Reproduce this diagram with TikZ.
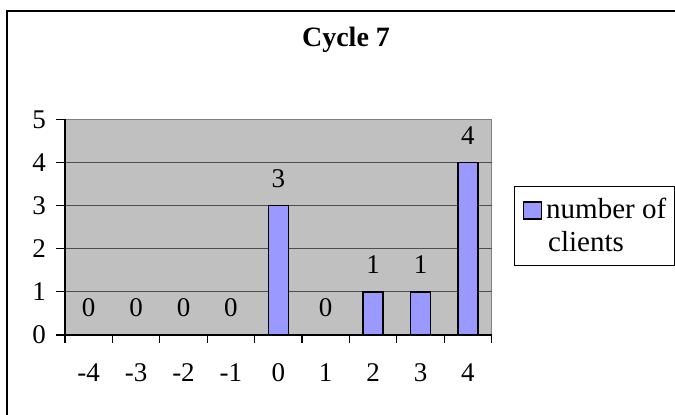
\documentclass[tikz,border=0pt]{standalone}
\usepackage{fontspec}
\setmainfont{Liberation Serif}
\usepackage{tikz}
\usetikzlibrary{positioning}

\definecolor{barblue}{HTML}{9999FF}
\definecolor{plotgray}{HTML}{C0C0C0}

\begin{document}
\begin{tikzpicture}[x = 1pt, y = 1pt,
    every node/.style = {font = \fontsize{27}{31}\selectfont, inner sep = 0pt},
    legendtext/.style = {anchor = base west, font = \fontsize{29}{33}\selectfont},
    frame/.style = {draw = black, line width = 1.2pt},
    border/.style = {draw = black!50, line width = 1.3pt},
    gridline/.style = {draw = black!70, line width = 0.9pt},
    axis/.style = {draw = black, line width = 1.2pt},
    bar/.style = {draw = black, line width = 1.5pt, fill = barblue}]
            \useasboundingbox (0,0) rectangle (675,415);
            \fill[white] (0,0) rectangle (675,415);
            \draw[frame] (7,0) |- (675,404);

            % title
            \node (title) [anchor = base, font = \fontsize{28}{32}\selectfont\bfseries] at (346,368) {Cycle 7};

            % plot area, one unit per category and per client
            \begin{scope}[shift = {(65,80)}, x = 47.4pt, y = 43.14pt]
                \fill[plotgray] (0,0) rectangle (9,5);
                \draw[border] (0,5) -- (9,5) -- (9,0);
                \foreach \v in {1,...,4} {
                    \draw[gridline] (0,\v) -- (9,\v);
                }
                \draw[axis] (0,5) -- (0,0) -- (9,0);
                \foreach \v in {0,...,5} {
                    \draw[axis] (0,\v) -- ++(-9pt,0);
                    \node (ylab\v) [anchor = east, xshift = -19pt] at (0,\v) {\v};
                }
                \foreach \i in {0,...,9} {
                    \draw[axis] (\i,0) -- ++(0,-8pt);
                }
                \foreach \lab/\val [count = \i from 0] in {-4/0, -3/0, -2/0, -1/0, 0/3, 1/0, 2/1, 3/1, 4/4} {
                    \ifnum\val>0
                        \draw[bar] (\i+0.29,0) rectangle (\i+0.71,\val);
                    \fi
                    \node (val\i) [yshift = 27pt] at (\i+0.5,\val) {\val};
                    \node (xlab\i) [yshift = -37.5pt] at (\i+0.5,0) {\lab};
                }
            \end{scope}

            % legend
            \node (legend) [draw = black, line width = 1pt, minimum width = 160pt, minimum height = 79pt] at (594,188.5) {};
            \node (legkey) [draw = black, line width = 1.5pt, fill = barblue, minimum width = 18pt, minimum height = 17pt] at (532.5,204.5) {};
            \node (legtext) [legendtext] at (546,196) {number of};
            \node (legtext2) [legendtext] at (548,163) {clients};
        \end{tikzpicture}
\end{document}
